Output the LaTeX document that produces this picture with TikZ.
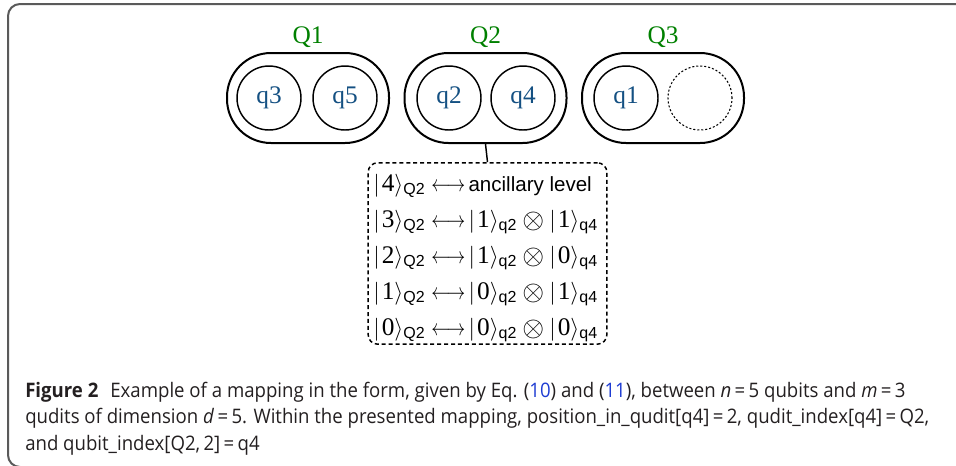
\documentclass[tikz,border=0pt]{standalone}
\usepackage{amsmath}
\usepackage{graphicx}
\usepackage{fontspec}
\setmainfont{Liberation Serif}
\setsansfont{Liberation Sans}
\newfontfamily\capfont{Open Sans}[FakeStretch=0.93]
\definecolor{qgreen}{RGB}{0,128,0}
\definecolor{qblue}{RGB}{20,80,130}
\definecolor{capgray}{RGB}{35,31,32}
\definecolor{linkblue}{RGB}{30,60,210}
\definecolor{framegray}{RGB}{90,90,90}
\tikzset{
  qbox/.style={draw, line width=1.5pt, rounded corners=33pt, minimum width=121.5pt, minimum height=67.5pt},
  qcirc/.style={draw, circle, line width=1.1pt, minimum size=48pt, inner sep=0pt, text=qblue, font=\fontsize{19pt}{22pt}\selectfont},
  emptycirc/.style={draw, circle, line width=0.8pt, dash pattern=on 1.5pt off 1.5pt, minimum size=48pt, inner sep=0pt},
  qlabel/.style={anchor=base, text=qgreen, font=\fontsize{19pt}{22pt}\selectfont},
  mapbox/.style={draw, line width=1.1pt, dash pattern=on 3pt off 2.2pt, rounded corners=7pt, minimum width=179pt, minimum height=136pt},
  maprow/.style={anchor=base west, inner sep=0pt, font=\fontsize{19pt}{22pt}\selectfont},
  capline/.style={anchor=base west, inner sep=0pt, text=capgray, font=\capfont\fontsize{15pt}{20pt}\selectfont},
  conn/.style={line width=1.1pt}
}
\newcommand{\ket}[2]{|\hspace{1.6pt}\textrm{#1}\rangle_{\text{\fontsize{12pt}{12pt}\selectfont\sffamily #2}}}
\newcommand{\lra}{\hspace{4.5pt}\scalebox{0.8}[1]{$\longleftrightarrow$}\hspace{2.5pt}}
\newcommand{\tens}{\mathbin{\vcenter{\hbox{\scalebox{1.22}{$\otimes$}}}}}
\newcommand{\anc}{\text{\fontsize{15.4pt}{18pt}\selectfont\sffamily ancillary level}}
\begin{document}
\begin{tikzpicture}[x=0.75pt,y=-0.75pt]
\useasboundingbox (0,0) rectangle (956,465);
\begin{scope}
\clip (0,0) rectangle (956,465);
\draw[framegray, line width=1.5pt] (960,4) -- (20,4) arc[start angle=90, end angle=180, radius=9pt] -- (8,455) arc[start angle=180, end angle=270, radius=9pt] -- (960,467);
\end{scope}
% qudit boxes
\node[qbox] (Q1) at (308,98) {};
\node[qbox] (Q2) at (485.5,98) {};
\node[qbox] (Q3) at (663,98) {};
\node[qlabel] (L1) at (308,43) {Q1};
\node[qlabel] (L2) at (485.5,43) {Q2};
\node[qlabel] (L3) at (663,43) {Q3};
\node[qcirc] (q3) at (269,98) {q3};
\node[qcirc] (q5) at (345,98) {q5};
\node[qcirc] (q2) at (449,98) {q2};
\node[qcirc] (q4) at (523,98) {q4};
\node[qcirc] (q1) at (626,98) {q1};
\node[emptycirc] (e) at (700,98) {};
% mapping box
\node[mapbox] (map) at (487.5,253.5) {};
\draw[conn] (Q2.south) -- (map.north);
\node[maprow] (r4) at (373,191) {$\ket{4}{Q2}\lra\anc$};
\node[maprow] (r3) at (373,227) {$\ket{3}{Q2}\lra\ket{1}{q2}\tens\ket{1}{q4}$};
\node[maprow] (r2) at (373,263) {$\ket{2}{Q2}\lra\ket{1}{q2}\tens\ket{0}{q4}$};
\node[maprow] (r1) at (373,299) {$\ket{1}{Q2}\lra\ket{0}{q2}\tens\ket{1}{q4}$};
\node[maprow] (r0) at (373,335) {$\ket{0}{Q2}\lra\ket{0}{q2}\tens\ket{0}{q4}$};
% caption
\node[capline] (c1) at (25,397) {\textbf{Figure 2}\hspace{0.6em}Example of a mapping in the form, given by Eq. (\textcolor{linkblue}{10}) and (\textcolor{linkblue}{11}), between \textit{n}\,=\,5 qubits and \textit{m}\,=\,3};
\node[capline] (c2) at (25,423) {qudits of dimension \textit{d}\,=\,5. Within the presented mapping, position\_in\_qudit[q4]\,=\,2, qudit\_index[q4]\,=\,Q2,};
\node[capline] (c3) at (25,450) {and qubit\_index[Q2,\,2]\,=\,q4};
\end{tikzpicture}
\end{document}
